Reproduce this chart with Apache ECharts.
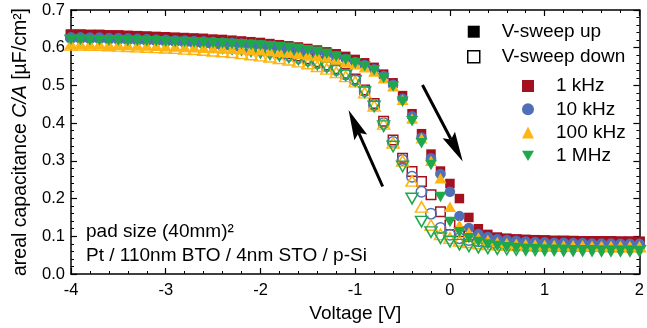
<!DOCTYPE html>
<html><head><meta charset="utf-8">
<script src="https://cdn.jsdelivr.net/npm/echarts@6/dist/echarts.min.js"></script>
<style>html,body{margin:0;padding:0;background:#fff}#c{width:647px;height:328px}</style>
</head><body><div id="c"></div>
<script>
// Voltage sweep points [V]
const voltage = [
-4.0,-3.9,-3.8,-3.7,-3.6,-3.5,-3.4,-3.3,-3.2,-3.1,
-3.0,-2.9,-2.8,-2.7,-2.6,-2.5,-2.4,-2.3,-2.2,-2.1,
-2.0,-1.9,-1.8,-1.7,-1.6,-1.5,-1.4,-1.3,-1.2,-1.1,
-1.0,-0.9,-0.8,-0.7,-0.6,-0.5,-0.4,-0.3,-0.2,-0.1,
0.0,0.1,0.2,0.3,0.4,0.5,0.6,0.7,0.8,0.9,
1.0,1.1,1.2,1.3,1.4,1.5,1.6,1.7,1.8,1.9,
2.0];

// V-sweep up (filled markers), C/A [uF/cm2]
const up1k = [
.636,.636,.635,.635,.634,.634,.633,.632,.631,.630,
.629,.628,.627,.626,.625,.623,.622,.620,.618,.616,
.614,.611,.608,.605,.602,.598,.594,.589,.584,.577,
.569,.560,.548,.530,.507,.473,.425,.372,.318,.273,
.240,.200,.150,.120,.105,.098,.095,.093,.092,.091,
.090,.089,.089,.088,.088,.088,.087,.087,.087,.087,
.086];
const up10k = [
.628,.628,.627,.627,.626,.626,.625,.624,.623,.622,
.621,.620,.619,.618,.617,.616,.614,.613,.611,.609,
.607,.605,.602,.599,.596,.592,.588,.583,.577,.570,
.562,.554,.543,.525,.502,.465,.418,.362,.307,.265,
.218,.154,.122,.106,.098,.093,.090,.088,.086,.085,
.084,.083,.083,.082,.082,.081,.081,.081,.080,.080,
.080];
const up100k = [
.610,.610,.609,.609,.608,.608,.607,.606,.606,.605,
.604,.603,.602,.601,.600,.599,.598,.597,.596,.594,
.593,.591,.589,.587,.584,.581,.578,.574,.569,.563,
.556,.548,.537,.519,.498,.462,.412,.360,.300,.254,
.178,.130,.110,.097,.090,.085,.082,.080,.079,.078,
.077,.077,.076,.076,.076,.075,.075,.075,.075,.074,
.074];
const up1M = [
.621,.621,.620,.620,.619,.619,.618,.618,.617,.617,
.616,.615,.615,.614,.613,.612,.611,.610,.609,.607,
.606,.604,.602,.600,.597,.593,.589,.584,.577,.568,
.559,.551,.540,.520,.497,.457,.405,.347,.289,.204,
.138,.111,.095,.085,.078,.074,.071,.069,.067,.066,
.065,.064,.064,.063,.063,.063,.062,.062,.062,.062,
.061];

// V-sweep down (open markers)
const down1k = [
.634,.634,.633,.633,.632,.631,.630,.629,.628,.627,
.625,.624,.622,.620,.618,.615,.612,.609,.606,.602,
.598,.594,.589,.584,.578,.571,.563,.554,.544,.532,
.517,.488,.452,.405,.355,.307,.272,.245,.210,.165,
.130,.112,.103,.098,.095,.093,.091,.090,.089,.088,
.088,.087,.087,.087,.086,.086,.086,.086,.085,.085,
.085];
const down10k = [
.626,.626,.625,.625,.624,.623,.622,.621,.620,.619,
.618,.617,.615,.613,.611,.609,.606,.603,.600,.597,
.593,.589,.584,.579,.573,.567,.559,.551,.541,.529,
.514,.485,.448,.400,.350,.302,.258,.218,.160,.122,
.104,.095,.090,.087,.085,.083,.082,.081,.080,.080,
.079,.079,.079,.078,.078,.078,.078,.077,.077,.077,
.077];
const down100k = [
.608,.608,.607,.607,.606,.605,.604,.603,.602,.601,
.600,.599,.597,.596,.594,.592,.590,.588,.585,.582,
.579,.576,.572,.568,.563,.558,.551,.544,.535,.524,
.510,.481,.446,.398,.348,.300,.247,.178,.130,.105,
.095,.088,.084,.081,.079,.078,.077,.076,.076,.075,
.075,.075,.074,.074,.074,.074,.074,.073,.073,.073,
.073];
const down1M = [
.619,.619,.618,.618,.617,.616,.615,.614,.613,.612,
.611,.609,.608,.606,.604,.602,.599,.597,.594,.591,
.587,.583,.579,.574,.569,.563,.556,.548,.539,.527,
.512,.482,.444,.392,.338,.285,.200,.139,.111,.095,
.086,.078,.073,.070,.068,.066,.065,.064,.064,.063,
.063,.063,.062,.062,.062,.062,.061,.061,.061,.061,
.061];

const freqNames = ['1 kHz','10 kHz','100 kHz','1 MHz'];
const sweepNames = ['V-sweep up','V-sweep down'];
const yTicks = [0,0.1,0.2,0.3,0.4,0.5,0.6,0.7];
const xTicks = [-4,-3,-2,-1,0,1,2];
// arrow annotations in data coordinates: [tail, tip]
const arrows = [
  [[-0.29,0.501],[0.135,0.298]],
  [[-0.71,0.232],[-1.07,0.435]]
];

const FONT = "'Liberation Sans', Arial, Helvetica, sans-serif";
const DOWN_TRI = 'path://M0,0L20,0L10,17.3Z';
const colors = ['#A3111F','#4F6FB7','#FDB515','#1FA84B'];
const symbols = ['rect','circle','triangle',DOWN_TRI];
const sizes = [[9.5,9.5],[10.5,10.5],[12,10.5],[12,10.5]];
const upData = [up1k, up10k, up100k, up1M];
const downData = [down1k, down10k, down100k, down1M];
const pairs = arr => voltage.map((v,i)=>[v,arr[i]]);

const series = [];
for (let k=0;k<4;k++) series.push({
  type:'scatter', name:freqNames[k]+' (down)', data:pairs(downData[k]),
  symbol:symbols[k], symbolSize:sizes[k], silent:true,
  itemStyle:{color:'rgba(255,255,255,0)', borderColor:colors[k], borderWidth:1.5, opacity:1}
});
for (let k=0;k<4;k++) series.push({
  type:'scatter', name:freqNames[k], data:pairs(upData[k]),
  symbol:symbols[k], symbolSize:sizes[k], silent:true,
  itemStyle:{color:colors[k], opacity:1}
});
series.push({type:'scatter', name:sweepNames[0], data:[]});
series.push({type:'scatter', name:sweepNames[1], data:[]});

const axisCommon = {
  axisLine:{show:true, onZero:false, lineStyle:{color:'#000', width:1.5}},
  axisTick:{show:true, inside:true, length:6, lineStyle:{color:'#000', width:1.2}},
  minorTick:{show:true, splitNumber:5, length:3, lineStyle:{color:'#000', width:1}},
  splitLine:{show:false}
};
const xMin = xTicks[0], xMax = xTicks[xTicks.length-1];
const yMin = yTicks[0], yMax = yTicks[yTicks.length-1];

const option = {
  animation:false,
  backgroundColor:'#fff',
  grid:{left:71, right:2.5, top:10, bottom:54},
  xAxis:[
    Object.assign({type:'value', position:'bottom', min:xMin, max:xMax, interval:1,
      axisLabel:{color:'#000', fontSize:16.5, fontFamily:FONT, margin:8},
      name:'Voltage [V]', nameLocation:'middle', nameGap:29,
      nameTextStyle:{color:'#000', fontSize:19, fontFamily:FONT}}, axisCommon),
    Object.assign({type:'value', position:'top', min:xMin, max:xMax, interval:1,
      axisLabel:{show:false}}, axisCommon)
  ],
  yAxis:[
    Object.assign({type:'value', position:'left', min:yMin, max:yMax, interval:0.1,
      axisLabel:{color:'#000', fontSize:16.5, fontFamily:FONT, margin:6, formatter:v=>v.toFixed(1)},
      name:'{a|areal capacitance }{b|C/A}{a| [µF/cm²]}', nameLocation:'middle', nameGap:40,
      nameTextStyle:{rich:{
        a:{color:'#000', fontSize:19.5, fontFamily:FONT},
        b:{color:'#000', fontSize:19.5, fontFamily:FONT, fontStyle:'italic'}}}}, axisCommon),
    Object.assign({type:'value', position:'right', min:yMin, max:yMax, interval:0.1,
      axisLabel:{show:false}}, axisCommon)
  ],
  legend:[
    {orient:'vertical', left:467, top:22.2, padding:0, itemGap:6, itemWidth:12, itemHeight:12,
     selectedMode:false,
     textStyle:{color:'#000', fontSize:19, fontFamily:FONT, padding:[0,0,0,17]},
     data:[
       {name:sweepNames[0], icon:'rect', itemStyle:{color:'#000', borderWidth:0, opacity:1}},
       {name:sweepNames[1], icon:'rect', itemStyle:{color:'#fff', borderColor:'#000', borderWidth:1.5, opacity:1}}
     ]},
    {orient:'vertical', left:522, top:76.5, padding:0, itemGap:4.3, itemWidth:12, itemHeight:12,
     selectedMode:false,
     textStyle:{color:'#000', fontSize:19, fontFamily:FONT, padding:[0,0,0,17]},
     data:freqNames.map((n,k)=>({name:n, icon:symbols[k], itemStyle:{color:colors[k], borderWidth:0, opacity:1}}))}
  ],
  series:series
};

const chart = echarts.init(document.getElementById('c'), null, {renderer:'canvas'});
chart.setOption(option);

const graphics = [];
arrows.forEach(([tail, tip])=>{
  const T0 = chart.convertToPixel({xAxisIndex:0, yAxisIndex:0}, tail);
  const T1 = chart.convertToPixel({xAxisIndex:0, yAxisIndex:0}, tip);
  const dx = T1[0]-T0[0], dy = T1[1]-T0[1];
  const len = Math.hypot(dx,dy), ux = dx/len, uy = dy/len;
  const nx = -uy, ny = ux;
  const L = 30, W = 7, notch = 5;
  const B = [T1[0]-L*ux, T1[1]-L*uy];
  const N = [T1[0]-(L-notch)*ux, T1[1]-(L-notch)*uy];
  graphics.push({type:'line', shape:{x1:T0[0], y1:T0[1], x2:N[0], y2:N[1]},
    style:{stroke:'#000', lineWidth:3}, z:50});
  graphics.push({type:'polygon', shape:{points:[T1, [B[0]+W*nx, B[1]+W*ny], N, [B[0]-W*nx, B[1]-W*ny]]},
    style:{fill:'#000'}, z:50});
});
graphics.push({type:'text', left:86, top:220, z:50,
  style:{text:'pad size (40mm)²\nPt / 110nm BTO / 4nm STO / p-Si', fill:'#000',
    font:'19px ' + FONT, lineHeight:24}});
chart.setOption({graphic:graphics});
</script>
</body></html>
